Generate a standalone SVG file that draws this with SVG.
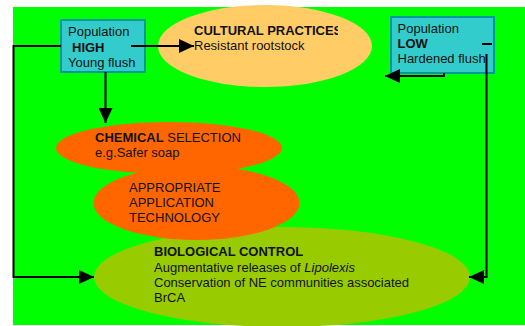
<svg xmlns="http://www.w3.org/2000/svg" width="525" height="326" viewBox="0 0 525 326">
  <style>
    text { font-family: "Liberation Sans", Arial, sans-serif; font-size: 13px; fill: #111; }
    .b { font-weight: bold; }
    .box { fill: #33CCCC; stroke: #009999; stroke-width: 2; }
    .conn { fill: none; stroke: #000; stroke-width: 2; }
  </style>
  <defs>
    <marker id="arrow" markerUnits="userSpaceOnUse" markerWidth="15" markerHeight="14" refX="15" refY="7" orient="auto">
      <path d="M0,0 L15,7 L0,14 z" fill="#000"/>
    </marker>
    <clipPath id="culturalClip">
      <rect x="150" y="0" width="188" height="100"/>
    </clipPath>
  </defs>

  <!-- background panel -->
  <rect x="0" y="0" width="525" height="326" fill="#fff"/>
  <rect x="13" y="7" width="512" height="318" fill="#00FF00"/>

  <g id="biological">
    <ellipse cx="282" cy="277" rx="188" ry="50" fill="#99CC00"/>
    <text x="154" y="256"><tspan class="b">BIOLOGICAL CONTROL</tspan>
      <tspan x="154" dy="15.5">Augmentative releases of <tspan font-style="italic">Lipolexis</tspan></tspan>
      <tspan x="154" dy="15">Conservation of NE communities associated</tspan>
      <tspan x="154" dy="15">BrCA</tspan></text>
  </g>

  <g id="appropriate">
    <ellipse cx="196.5" cy="203" rx="103" ry="37" fill="#FF6600"/>
    <text x="129" y="192">APPROPRIATE
      <tspan x="129" dy="15">APPLICATION</tspan>
      <tspan x="129" dy="15">TECHNOLOGY</tspan></text>
  </g>

  <g id="chemical">
    <ellipse cx="169" cy="148" rx="113" ry="26" fill="#FF6600"/>
    <text x="95" y="142"><tspan class="b">CHEMICAL</tspan> SELECTION
      <tspan x="95" dy="15">e.g.Safer soap</tspan></text>
  </g>

  <g id="cultural">
    <ellipse cx="265" cy="46" rx="107" ry="41" fill="#FFCC66"/>
    <text x="194" y="34.5" class="b" clip-path="url(#culturalClip)">CULTURAL PRACTICES</text>
    <text x="194" y="49.5">Resistant rootstock</text>
  </g>

  <g id="pop-high">
    <rect class="box" x="61" y="20" width="84" height="52"/>
    <text x="68" y="36">Population
      <tspan class="b" x="72" dy="15.5">HIGH</tspan>
      <tspan x="68" dy="15.5">Young flush</tspan></text>
  </g>

  <g id="pop-low">
    <rect class="box" x="391" y="17" width="103" height="56"/>
    <text x="397.5" y="32.5">Population
      <tspan class="b" x="397.5" dy="15.5">LOW</tspan>
      <tspan x="397.5" dy="15">Hardened flush</tspan></text>
    <line x1="482" y1="44" x2="492" y2="44" stroke="#000" stroke-width="2"/>
  </g>

  <g id="connectors">
    <path class="conn" d="M131,46 H194" marker-end="url(#arrow)"/>
    <path class="conn" d="M105.5,72 V123" marker-end="url(#arrow)"/>
    <path class="conn" d="M61,46 H13.5 V277 H94" marker-end="url(#arrow)"/>
    <path class="conn" d="M444,73 V76 H385" marker-end="url(#arrow)"/>
    <path class="conn" d="M486.5,54 V277 H469" marker-end="url(#arrow)"/>
  </g>
</svg>
